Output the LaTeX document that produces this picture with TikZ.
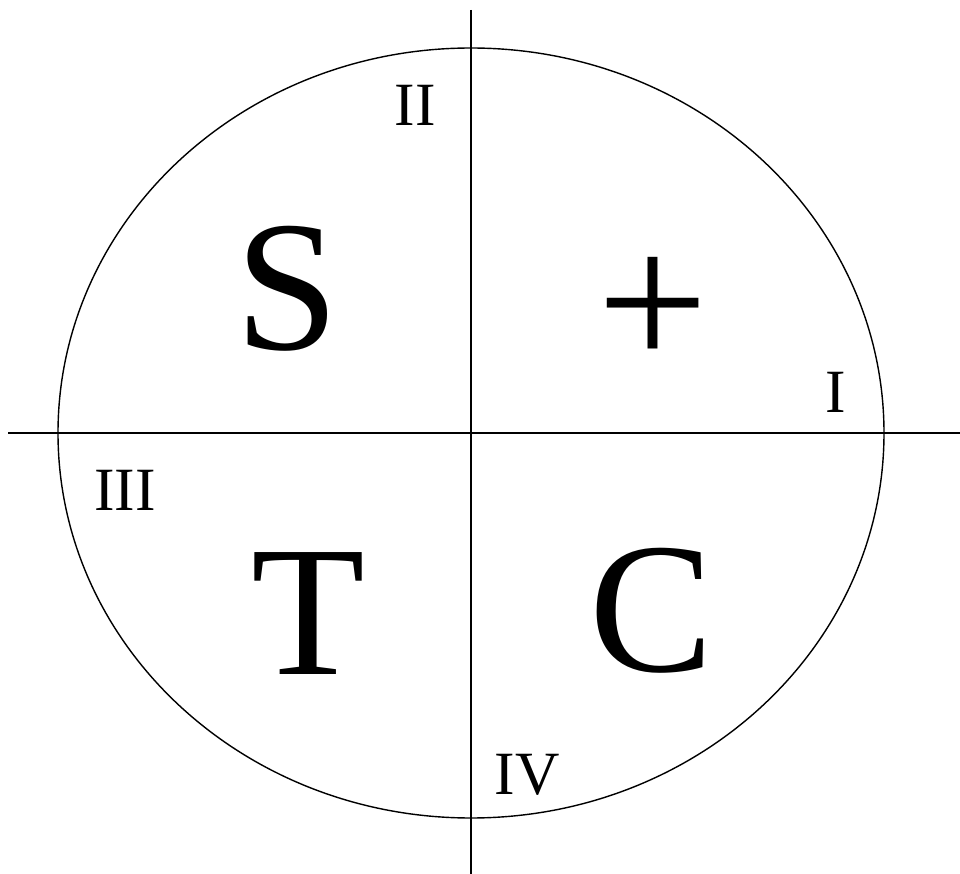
\documentclass[tikz,border=0pt]{standalone}
\usepackage{fontspec}
\setmainfont{Liberation Serif}
\usetikzlibrary{positioning}
\tikzset{
    % quadrant letters and numerals
    bigletter/.style={
        inner sep=0pt,
        font=\fontsize{106}{106}\selectfont
    },
    numeral/.style={
        inner sep=0pt,
        font=\fontsize{35}{35}\selectfont
    },
    axis/.style={
        line width=0.8pt,
        draw=black
    }
}
\begin{document}
\begin{tikzpicture}[x=0.02cm, y=-0.02cm]
    \useasboundingbox (0,0) rectangle (960,874);

    % circle and axes
    \draw[axis] (471,433) ellipse [x radius=413, y radius=385];
    \coordinate (west) at (8,433);
    \coordinate (east) at (960,433);
    \coordinate (north) at (471,10);
    \coordinate (south) at (471,874);
    \draw[axis] (west) -- (east);
    \draw[axis] (north) -- (south);

    % letters
    \node[bigletter] (s) at (287,289) {S};
    \node[bigletter, font=\fontsize{112}{112}\selectfont] (plus) at (653,313) {+};
    \node[bigletter] (t) at (308,614) {T};
    \node[bigletter] (c) at (652,611) {C};

    % quadrant numbers
    \node[numeral] (q1) at (836,392) {I};
    \node[numeral] (q2) at (415,105) {II};
    \node[numeral] (q3) at (125,490) {III};
    \node[numeral] (q4) at (527,775) {IV};
\end{tikzpicture}
\end{document}
